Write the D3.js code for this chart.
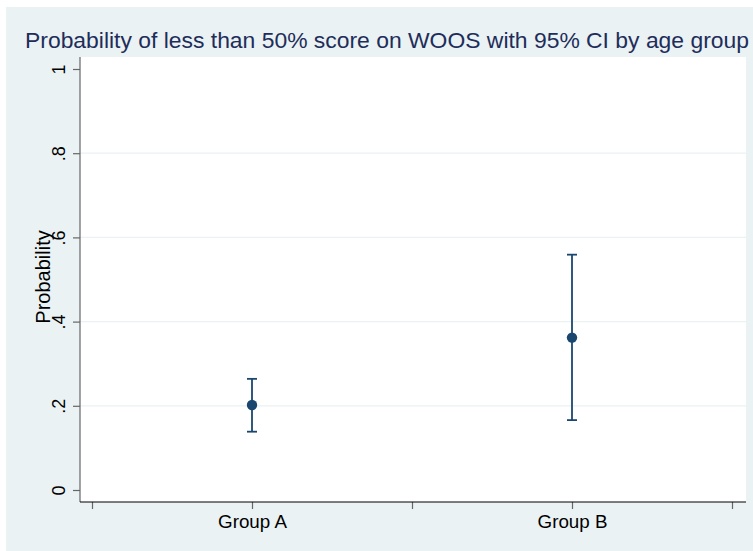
<!DOCTYPE html>
<html><head><meta charset="utf-8">
<script src="https://cdn.jsdelivr.net/npm/d3@7/dist/d3.min.js"></script>
<style>body{margin:0;background:#fff;}svg{display:block;font-family:"Liberation Sans",Arial,sans-serif;}</style>
</head><body>
<script>
const groups = ["Group A", "Group B"];
const groupPos = [1, 2];
const estimates = [0.202, 0.362];
const lowerCI = [0.1385, 0.166];
const upperCI = [0.264, 0.559];
const yTicks = [0, 0.2, 0.4, 0.6, 0.8, 1];
const yTickLabels = ["0", ".2", ".4", ".6", ".8", "1"];
const xTicks = [0.5, 1, 1.5, 2, 2.5];

const W = 753, H = 551;
const svg = d3.select("body").append("svg").attr("width", W).attr("height", H);
svg.append("rect").attr("x", 6).attr("y", 7).attr("width", W - 6).attr("height", H - 7).attr("fill", "#eaf2f3");

const plot = {l: 80, r: 746, t: 57, b: 502};
svg.append("rect").attr("x", plot.l).attr("y", plot.t).attr("width", plot.r - plot.l).attr("height", plot.b - plot.t).attr("fill", "#fff");

const x = d3.scaleLinear().domain([0.5, 2.5]).range([92, 732]);
const y = d3.scaleLinear().domain([0, 1]).range([490, 69]);

// gridlines
svg.append("g").selectAll("line").data(yTicks.filter(d => d > 0 && d < 1)).join("line")
  .attr("x1", plot.l).attr("x2", plot.r).attr("y1", d => y(d)).attr("y2", d => y(d))
  .attr("stroke", "#eaf2f3").attr("stroke-width", 1.2);

// y axis
const yAxis = d3.axisLeft(y).tickValues(yTicks).tickFormat((d, i) => yTickLabels[i]).tickSize(7);
const gy = svg.append("g").attr("transform", `translate(${plot.l},0)`).call(yAxis);
gy.select(".domain").remove();
svg.append("line").attr("x1", plot.l).attr("x2", plot.l).attr("y1", plot.t).attr("y2", plot.b).attr("stroke", "#666").attr("stroke-width", 1.2);
gy.selectAll(".tick line").attr("stroke", "#666").attr("stroke-width", 1.2);
gy.selectAll(".tick text").attr("font-size", 18).attr("fill", "#000")
  .attr("text-anchor", "middle").attr("x", 0).attr("y", 0).attr("dy", null)
  .attr("transform", "translate(-15,0) rotate(-90)");

// x axis
const xAxis = d3.axisBottom(x).tickValues(xTicks).tickFormat(d => { const i = groupPos.indexOf(d); return i >= 0 ? groups[i] : ""; }).tickSize(7);
const gx = svg.append("g").attr("transform", `translate(0,${plot.b})`).call(xAxis);
gx.select(".domain").remove();
svg.append("line").attr("x1", plot.l).attr("x2", plot.r).attr("y1", plot.b).attr("y2", plot.b).attr("stroke", "#000").attr("stroke-width", 1.2);
gx.selectAll(".tick line").attr("stroke", "#666").attr("stroke-width", 1.2);
gx.selectAll(".tick text").attr("font-size", 18.8).attr("fill", "#000").attr("y", 26).attr("dy", null);

// axis title
svg.append("text").attr("transform", `translate(50,277) rotate(-90)`)
  .attr("text-anchor", "middle").attr("font-size", 20).attr("fill", "#000").text("Probability");

// title
svg.append("text").attr("x", 387).attr("y", 48).attr("text-anchor", "middle")
  .attr("font-size", 22.9).attr("fill", "#1e2d5a").text("Probability of less than 50% score on WOOS with 95% CI by age group");

// error bars
const col = "#1a476f";
const g = svg.append("g");
groupPos.forEach((p, i) => {
  const cx = x(p);
  g.append("line").attr("x1", cx).attr("x2", cx).attr("y1", y(lowerCI[i])).attr("y2", y(upperCI[i])).attr("stroke", col).attr("stroke-width", 1.8);
  [lowerCI[i], upperCI[i]].forEach(v => {
    g.append("line").attr("x1", cx - 5).attr("x2", cx + 5).attr("y1", y(v)).attr("y2", y(v)).attr("stroke", col).attr("stroke-width", 1.8);
  });
  g.append("circle").attr("cx", cx).attr("cy", y(estimates[i])).attr("r", 5.2).attr("fill", col);
});
</script>
</body></html>
